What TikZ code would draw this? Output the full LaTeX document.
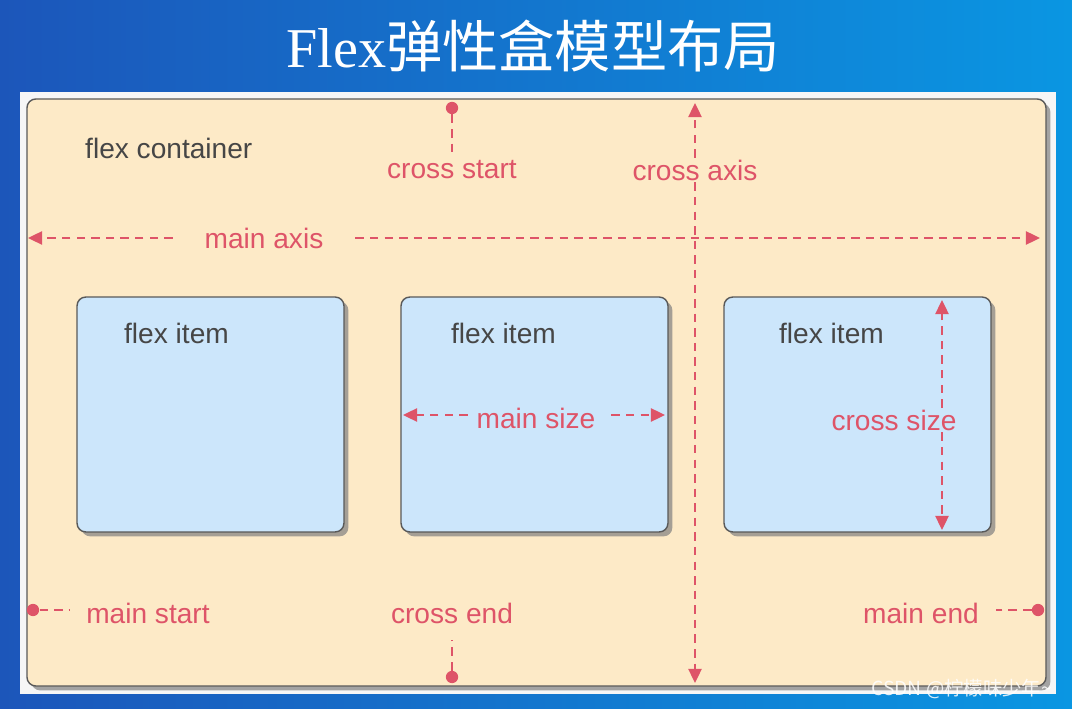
\documentclass[tikz,border=0pt]{standalone}
\usepackage{fontspec}
\setmainfont{Liberation Sans}
\newfontfamily\cjk{Noto Sans CJK SC}
\newfontfamily\titleserif{Liberation Serif}
\usetikzlibrary{arrows.meta,shadows,positioning}
\definecolor{bgleft}{RGB}{28,86,186}
\definecolor{bgright}{RGB}{10,150,226}
\definecolor{beige}{RGB}{253,234,199}
\definecolor{itemblue}{RGB}{204,230,251}
\definecolor{flexred}{RGB}{222,84,104}
\definecolor{txtgrey}{RGB}{70,70,70}
\begin{document}
\begin{tikzpicture}[x=0.02cm,y=-0.02cm,
	axis/.style={flexred,line width=1.1pt,dash pattern=on 4.8pt off 3.5pt},
	tip/.style={-{Triangle[length=8pt,width=7.5pt]}},
	dot/.style={circle,fill=flexred,inner sep=0pt,minimum size=7pt},
	lbl/.style={text=flexred,font=\fontsize{16}{19}\selectfont,inner sep=1pt},
	box/.style={draw=black!65,line width=0.8pt,rounded corners=5pt,drop shadow={shadow xshift=2.5pt,shadow yshift=-2.5pt,opacity=0.7}},
	item/.style={box,fill=itemblue,minimum width=5.34cm,minimum height=4.7cm}]
	\useasboundingbox (0,0) rectangle (1072,709);
	\fill[left color=bgleft,right color=bgright] (0,0) rectangle (1072,709);
	\node[text=white,font=\fontsize{32}{36}\selectfont] (title) at (533,46) {{\titleserif Flex}{\cjk 弹性盒模型布局}};
	% white frame and container
	\fill[white!93!gray] (20,92) rectangle (1056,694);
	\path[box,fill=beige] (27,99) rectangle (1046,686);
	\node[text=txtgrey,font=\fontsize{16}{19}\selectfont,anchor=west] (container) at (79,148) {flex container};
	\foreach \name/\cx/\dx in {itemA/210.5/-34,itemB/534.5/-31,itemC/857.5/-26}{
		\node[item] (\name) at (\cx,414.5) {};
		\node[text=txtgrey,font=\fontsize{16}{19}\selectfont] (\name-lbl) at ([xshift=\dx*0.02cm,yshift=-0.74cm]\name.north) {flex item};
	}
	% main axis
	\coordinate (mainL) at (28,238);
	\coordinate (mainR) at (1040,238);
	\node[lbl] (mainaxis) at (264,238) {main axis};
	\draw[axis,tip] ([xshift=-0.6cm]mainaxis.west) -- (mainL);
	\draw[axis,tip] ([xshift=0.6cm]mainaxis.east) -- (mainR);
	% cross axis
	\coordinate (crossT) at (695,103);
	\coordinate (crossB) at (695,683);
	\node[lbl] (crossaxis) at (695,170) {cross axis};
	\draw[axis,tip] (crossaxis.north) -- (crossT);
	\draw[axis,tip] (crossaxis.south) -- (crossB);
	% start and end
	\node[lbl] (crossstart) at (452,170) {cross start};
	\node[dot] (csdot) at (452,108) {};
	\draw[axis] (csdot) -- ([yshift=0.06cm]crossstart.north);
	\node[lbl] (crossend) at (452,613) {cross end};
	\node[dot] (cedot) at (452,677) {};
	\draw[axis] (cedot) -- ([yshift=-0.3cm]crossend.south);
	\node[lbl] (mainstart) at (148,613) {main start};
	\node[dot] (msdot) at (33,610) {};
	\draw[axis] (msdot) -- ([xshift=-0.28cm]mainstart.west |- msdot);
	\node[lbl] (mainend) at (921,613) {main end};
	\node[dot] (medot) at (1038,610) {};
	\draw[axis] (medot) -- ([xshift=0.3cm]mainend.east |- medot);
	% sizes
	\node[lbl] (mainsize) at (536,418) {main size};
	\coordinate (msL) at (403,415);
	\coordinate (msR) at (665,415);
	\draw[axis,tip] ([xshift=-0.14cm]mainsize.west |- msL) -- (msL);
	\draw[axis,tip] ([xshift=0.28cm]mainsize.east |- msR) -- (msR);
	\node[lbl] (crosssize) at (894,420) {cross size};
	\coordinate (csT) at (942,300);
	\coordinate (csB) at (942,530);
	\draw[axis,tip] (crosssize.north -| csT) -- (csT);
	\draw[axis,tip] (crosssize.south -| csB) -- (csB);
	% watermark
	\node[text=white,opacity=0.85,font=\cjk\fontsize{11}{13}\selectfont,anchor=east] (mark) at (1058,689) {CSDN @柠檬味少年\textasciitilde};
\end{tikzpicture}
\end{document}
